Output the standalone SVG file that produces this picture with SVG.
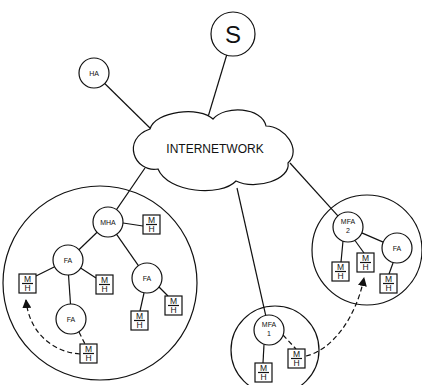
<svg xmlns="http://www.w3.org/2000/svg" width="422" height="385" viewBox="0 0 422 385">
<defs>
<style>
.ln{stroke:#111;stroke-width:1.2;fill:none}
.ds{stroke:#111;stroke-width:1.2;fill:none;stroke-dasharray:5,3}
.nd{stroke:#111;stroke-width:1.2;fill:#fff}
.bx{stroke:#111;stroke-width:1.2;fill:#fff}
.t{font-family:"Liberation Sans",Arial,sans-serif;fill:#111;text-anchor:middle}
.s7{font-size:7px}
.s8{font-size:8px;font-weight:bold}
.mh{font-size:8.5px}
</style>
<marker id="ah" viewBox="0 0 10 10" refX="9" refY="5" markerWidth="9" markerHeight="9" markerUnits="userSpaceOnUse" orient="auto">
<path d="M0,0 L10,5 L0,10 Z" fill="#111"/>
</marker>
<g id="mhbox">
<rect class="bx" x="0" y="0" width="17" height="19"/>
<line class="ln" x1="3" y1="9.5" x2="14" y2="9.5" stroke-width="0.8"/>
<text class="t mh" x="8.5" y="8">M</text>
<text class="t mh" x="8.5" y="17">H</text>
</g>
</defs>
<rect width="422" height="385" fill="#fff"/>

<g id="domains">
<circle class="ln" cx="100" cy="283" r="97"/>
<circle class="ln" cx="367" cy="250" r="55"/>
<circle class="ln" cx="275" cy="350" r="44"/>
</g>

<g id="connectors">
<line class="ln" x1="104.7" y1="83.5" x2="152" y2="130"/>
<line class="ln" x1="226.7" y1="55" x2="208" y2="117"/>
<line class="ln" x1="145" y1="168" x2="116.5" y2="209.6"/>
<line class="ln" x1="237" y1="188" x2="265.7" y2="315.4"/>
<line class="ln" x1="290" y1="163" x2="337.9" y2="215.9"/>
<line class="ln" x1="123" y1="223" x2="143" y2="226"/>
<line class="ln" x1="97.1" y1="232.3" x2="78.9" y2="249.7"/>
<line class="ln" x1="116.6" y1="234.3" x2="138.4" y2="265.7"/>
<line class="ln" x1="54.6" y1="266.7" x2="36" y2="276"/>
<line class="ln" x1="80.6" y1="268.1" x2="96" y2="278"/>
<line class="ln" x1="68.5" y1="275" x2="70.5" y2="304"/>
<line class="ln" x1="144" y1="293" x2="140" y2="311"/>
<line class="ln" x1="159" y1="287" x2="168" y2="296"/>
<line class="ds" x1="79" y1="332" x2="85" y2="344"/>
<line class="ln" x1="343" y1="241" x2="341" y2="262"/>
<line class="ln" x1="355" y1="240.5" x2="364" y2="253"/>
<line class="ln" x1="361.8" y1="232.9" x2="383.2" y2="242.1"/>
<line class="ln" x1="393" y1="263" x2="389" y2="274"/>
<line class="ln" x1="264" y1="344.5" x2="263" y2="363"/>
<line class="ds" x1="283" y1="335" x2="296" y2="349"/>
<path class="ds" d="M80,354 C52,352 29,332 26,300" marker-end="url(#ah)"/>
<path class="ds" d="M306,356 C332,350 356,318 364,278" marker-end="url(#ah)"/>
</g>

<g id="internetwork">
<path class="nd" d="M150,129 C155,111 200,106 213,119 C225,105 262,107 266,126 C285,126 302,150 288,163 C291,179 256,191 236,181 C221,197 168,193 158,169 C134,173 121,139 150,129 Z"/>
<text class="t" x="215" y="153" font-size="12">INTERNETWORK</text>
</g>

<g id="S">
<circle class="nd" cx="233" cy="34" r="22"/>
<text class="t" x="233" y="43" font-size="24">S</text>
</g>

<g id="HA">
<circle class="nd" cx="94" cy="73" r="15"/>
<text class="t s7" x="94" y="75.5">HA</text>
</g>

<g id="MHA">
<circle class="nd" cx="108" cy="222" r="15"/>
<text class="t s7" x="108" y="224.5">MHA</text>
</g>
<g id="FA1">
<circle class="nd" cx="68" cy="260" r="15"/>
<text class="t s7" x="68" y="262.5">FA</text>
</g>
<g id="FA2">
<circle class="nd" cx="147" cy="278" r="15"/>
<text class="t s7" x="147" y="280.5">FA</text>
</g>
<g id="FA3">
<circle class="nd" cx="71" cy="319" r="15"/>
<text class="t s7" x="71" y="321.5">FA</text>
</g>
<g id="MFA2">
<circle class="nd" cx="348" cy="227" r="15"/>
<text class="t s7" x="348" y="224">MFA</text>
<text class="t s7" x="348" y="233">2</text>
</g>
<g id="FA4">
<circle class="nd" cx="397" cy="248" r="15"/>
<text class="t s7" x="397" y="250.5">FA</text>
</g>
<g id="MFA1">
<circle class="nd" cx="269" cy="330" r="15"/>
<text class="t s7" x="269" y="327">MFA</text>
<text class="t s7" x="269" y="336">1</text>
</g>

<g id="MH1"><use href="#mhbox" x="143" y="215"/></g>
<g id="MH2"><use href="#mhbox" x="19" y="274"/></g>
<g id="MH3"><use href="#mhbox" x="96" y="275"/></g>
<g id="MH4"><use href="#mhbox" x="131" y="311"/></g>
<g id="MH5"><use href="#mhbox" x="165" y="296"/></g>
<g id="MH6"><use href="#mhbox" x="80" y="344"/></g>
<g id="MH7"><use href="#mhbox" x="332" y="262"/></g>
<g id="MH8"><use href="#mhbox" x="357" y="253"/></g>
<g id="MH9"><use href="#mhbox" x="380" y="274"/></g>
<g id="MH10"><use href="#mhbox" x="255" y="363"/></g>
<g id="MH11"><use href="#mhbox" x="288" y="349"/></g>
</svg>
